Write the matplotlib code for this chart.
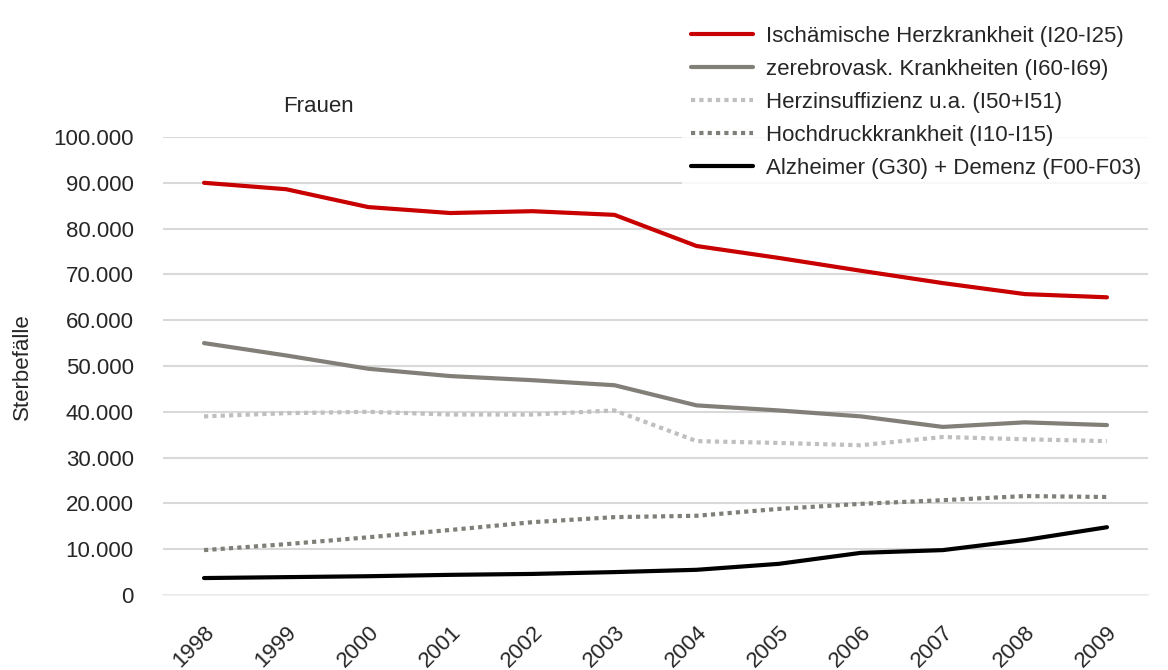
import matplotlib.pyplot as plt
import numpy as np

plt.rcParams['font.family'] = ['Liberation Sans', 'DejaVu Sans']

# Data
years = ['1998', '1999', '2000', '2001', '2002', '2003',
         '2004', '2005', '2006', '2007', '2008', '2009']
ischaemisch = [90000, 88600, 84700, 83400, 83800, 83000,
               76200, 73600, 70800, 68100, 65700, 65000]
zerebrovask = [55000, 52300, 49400, 47800, 46900, 45800,
               41400, 40300, 39000, 36700, 37700, 37100]
herzinsuff = [39000, 39700, 40000, 39400, 39400, 40300,
              33600, 33200, 32700, 34500, 34000, 33600]
hochdruck = [9800, 11100, 12600, 14200, 15900, 17000,
             17300, 18800, 19900, 20700, 21600, 21400]
alzheimer = [3700, 3900, 4100, 4400, 4600, 5000,
             5500, 6800, 9200, 9800, 12000, 14800]

labels = ['Ischämische Herzkrankheit (I20-I25)',
          'zerebrovask. Krankheiten (I60-I69)',
          'Herzinsuffizienz u.a. (I50+I51)',
          'Hochdruckkrankheit (I10-I15)',
          'Alzheimer (G30) + Demenz (F00-F03)']
yticks = [0, 10000, 20000, 30000, 40000, 50000,
          60000, 70000, 80000, 90000, 100000]

text_col = '#262626'
fs = 16

fig = plt.figure(figsize=(11.68, 6.7), dpi=100)
ax = fig.add_axes([163 / 1168, 75 / 670, 985 / 1168, 458 / 670])

x = np.arange(len(years))
dots = (0, (1, 1))
ax.plot(x, ischaemisch, color='#C80000', lw=3, label=labels[0], solid_capstyle='round')
ax.plot(x, zerebrovask, color='#817F78', lw=3, label=labels[1], solid_capstyle='round')
ax.plot(x, herzinsuff, color='#BFBFBF', lw=3, ls=dots, dash_capstyle='butt', label=labels[2])
ax.plot(x, hochdruck, color='#7F7E78', lw=3, ls=dots, dash_capstyle='butt', label=labels[3])
ax.plot(x, alzheimer, color='#000000', lw=3, label=labels[4], solid_capstyle='round')

ax.set_xlim(-0.5, len(years) - 0.5)
ax.set_ylim(0, 100000)
ax.set_yticks(yticks)
ax.set_yticklabels([f"{v:,.0f}".replace(',', '.') for v in yticks])
ax.set_xticks(x)
ax.set_xticklabels(years, rotation=45, ha='right', va='top', rotation_mode='anchor')

ax.grid(axis='y', color='#D9D9D9', lw=1.5)
ax.set_axisbelow(True)
for s in ['top', 'right', 'left']:
    ax.spines[s].set_visible(False)
ax.spines['bottom'].set_color('#EFEFEF')
ax.spines['bottom'].set_linewidth(1.2)
ax.tick_params(axis='y', length=0, pad=21, labelsize=fs, labelcolor=text_col)
ax.tick_params(axis='x', length=0, pad=19, labelsize=fs, labelcolor=text_col)

fig.text(22 / 1168, 1 - 367 / 670, 'Sterbefälle', rotation=90, ha='center', va='center',
         fontsize=fs, color=text_col)
fig.text(318 / 1168, 1 - 106 / 670, 'Frauen', ha='center', va='center',
         fontsize=fs, color=text_col)

leg = fig.legend(loc='upper left', bbox_to_anchor=(671 / 1168, 1 - 6 / 670),
                 frameon=True, fontsize=fs, handlelength=2.8, handletextpad=0.58,
                 labelspacing=0.535, borderpad=0.4, fancybox=False)
leg.get_frame().set_facecolor('white')
leg.get_frame().set_edgecolor('none')
for t in leg.get_texts():
    t.set_color(text_col)

fig.savefig('out.png', dpi=100)
